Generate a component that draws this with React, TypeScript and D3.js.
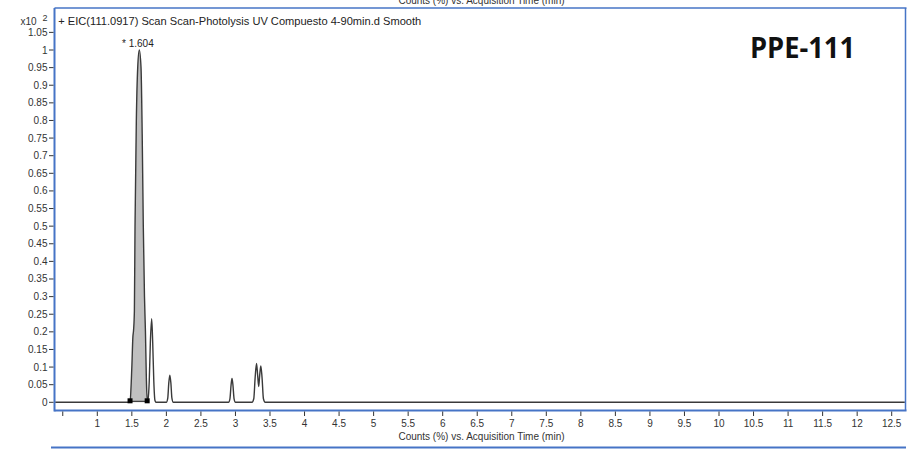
import React from 'react';
import * as d3 from 'd3';

// ---- data ----
const traceTimes = [
  0.39, 1.46, 1.474, 1.5, 1.515, 1.525, 1.537, 1.546, 1.565, 1.585, 1.608, 1.633, 1.65, 1.666, 1.683,
  1.697, 1.71, 1.722, 1.735, 1.752, 1.768, 1.787, 1.802, 1.818, 1.835, 1.85, 2.0, 2.02, 2.035, 2.05,
  2.065, 2.08, 2.1, 2.9, 2.92, 2.937, 2.95, 2.963, 2.98, 3.0, 3.24, 3.265, 3.285, 3.305, 3.322, 3.337,
  3.35, 3.367, 3.385, 3.405, 3.43, 12.69,
];
const traceValues = [
  0, 0, 0.002, 0.1, 0.185, 0.205, 0.26, 0.5, 0.8, 0.95, 1.0, 0.95, 0.76, 0.5, 0.3,
  0.2, 0.07, 0.005, 0.01, 0.06, 0.17, 0.237, 0.17, 0.06, 0.005, 0, 0, 0.012, 0.055, 0.077,
  0.055, 0.012, 0, 0, 0.01, 0.05, 0.068, 0.05, 0.01, 0, 0, 0.01, 0.07, 0.11, 0.075, 0.045,
  0.075, 0.103, 0.07, 0.01, 0, 0,
];
const integrationStart = 1.474;
const integrationEnd = 1.722;
const peakTime = 1.604;
const peakValue = 1.0;
const peakLabel = '* 1.604';
const yTicks = [0, 0.05, 0.1, 0.15, 0.2, 0.25, 0.3, 0.35, 0.4, 0.45, 0.5, 0.55, 0.6, 0.65, 0.7, 0.75, 0.8, 0.85, 0.9, 0.95, 1, 1.05];
const xTicks = [0.5, 1, 1.5, 2, 2.5, 3, 3.5, 4, 4.5, 5, 5.5, 6, 6.5, 7, 7.5, 8, 8.5, 9, 9.5, 10, 10.5, 11, 11.5, 12, 12.5];
const xLabelSkip = [0.5];
const traceTitle = '+ EIC(111.0917) Scan Scan-Photolysis UV Compuesto 4-90min.d  Smooth';
const axisTitle = 'Counts (%) vs. Acquisition Time (min)';
const sampleName = 'PPE-111';

const W = 908;
const H = 449;
const frame = { left: 54.5, top: 8, right: 905.5, bottom: 410.5 };
const blue = '#4674c6';
const font = '"Liberation Sans", Arial, sans-serif';

export default function App() {
  const x = d3.scaleLinear().domain([1, 12.5]).range([97.3, 891.7]);
  const y = d3.scaleLinear().domain([0, 1]).range([402.3, 50]);

  const pts: [number, number][] = traceTimes.map((t, i) => [t, traceValues[i]]);
  const line = d3
    .line<[number, number]>()
    .x((d) => x(d[0]))
    .y((d) => y(d[1]))
    .curve(d3.curveMonotoneX);
  const fillPts = pts.filter((d) => d[0] >= integrationStart && d[0] <= integrationEnd);
  const area = d3
    .area<[number, number]>()
    .x((d) => x(d[0]))
    .y0(y(0))
    .y1((d) => y(d[1]))
    .curve(d3.curveMonotoneX);

  return (
    <svg width={W} height={H} style={{ position: 'absolute', left: 0, top: 0, background: '#fff' }}>
      <defs>
        <clipPath id="plotclip">
          <rect x={frame.left} y={frame.top} width={frame.right - frame.left} height={frame.bottom - frame.top} />
        </clipPath>
      </defs>
      {/* top cut-off axis title of previous panel */}
      <text x={481.5} y={3.5} textAnchor="middle" fontFamily={font} fontSize={10} fill="#333">
        {axisTitle}
      </text>

      {/* trace */}
      <g clipPath="url(#plotclip)">
        <path d={area(fillPts) || ''} fill="#c0c0c0" stroke="none" />
        <line x1={x(integrationStart)} x2={x(integrationEnd)} y1={y(0) - 1} y2={y(0) - 1} stroke="#222" strokeWidth={1} />
        <path d={line(pts) || ''} fill="none" stroke="#3a3a3a" strokeWidth={1.4} />
        <rect x={x(integrationStart) - 2.5} y={y(0) - 4} width={5} height={5} fill="#000" />
        <rect x={x(integrationEnd) - 2.5} y={y(0) - 4} width={5} height={5} fill="#000" />
      </g>

      {/* frame */}
      <line x1={frame.left} x2={frame.right + 1} y1={frame.top} y2={frame.top} stroke={blue} strokeWidth={1.5} />
      <line x1={frame.right} x2={frame.right} y1={frame.top} y2={frame.bottom} stroke={blue} strokeWidth={1.5} />
      <line x1={frame.left} x2={frame.left} y1={frame.top} y2={frame.bottom + 1} stroke={blue} strokeWidth={2} />
      <line x1={frame.left} x2={frame.right + 1} y1={frame.bottom} y2={frame.bottom} stroke={blue} strokeWidth={2} />

      {/* y axis */}
      {yTicks.map((v) => (
        <g key={v}>
          <line x1={49} x2={53.5} y1={y(v)} y2={y(v)} stroke="#333" strokeWidth={1} />
          <text x={47.5} y={y(v) + 3.5} textAnchor="end" fontFamily={font} fontSize={10} fill="#333">
            {String(v)}
          </text>
        </g>
      ))}
      <text x={20.5} y={25} fontFamily={font} fontSize={10} fill="#333">
        x10
      </text>
      <text x={42.5} y={21} fontFamily={font} fontSize={9} fill="#333">
        2
      </text>

      {/* x axis */}
      {xTicks.map((t) => (
        <g key={t}>
          <line x1={x(t)} x2={x(t)} y1={411.5} y2={416} stroke="#333" strokeWidth={1} />
          {!xLabelSkip.includes(t) && (
            <text x={x(t)} y={427} textAnchor="middle" fontFamily={font} fontSize={10} fill="#333">
              {String(t)}
            </text>
          )}
        </g>
      ))}
      <text x={481.5} y={440} textAnchor="middle" fontFamily={font} fontSize={10} fill="#333">
        {axisTitle}
      </text>

      {/* next panel top */}
      <line x1={51} x2={906} y1={447.5} y2={447.5} stroke={blue} strokeWidth={2} />

      {/* annotations */}
      <text x={58.3} y={25} fontFamily={font} fontSize={10.5} fill="#222" textLength={363} lengthAdjust="spacingAndGlyphs">
        {traceTitle}
      </text>
      <text x={x(peakTime) - 17} y={y(peakValue) - 3} fontFamily={font} fontSize={10} fill="#222">
        {peakLabel}
      </text>
      <text x={750} y={58} fontFamily='"Open Sans", "Liberation Sans", sans-serif' fontWeight="bold" fontSize={28} fill="#111" textLength={105} lengthAdjust="spacingAndGlyphs">
        {sampleName}
      </text>
    </svg>
  );
}
